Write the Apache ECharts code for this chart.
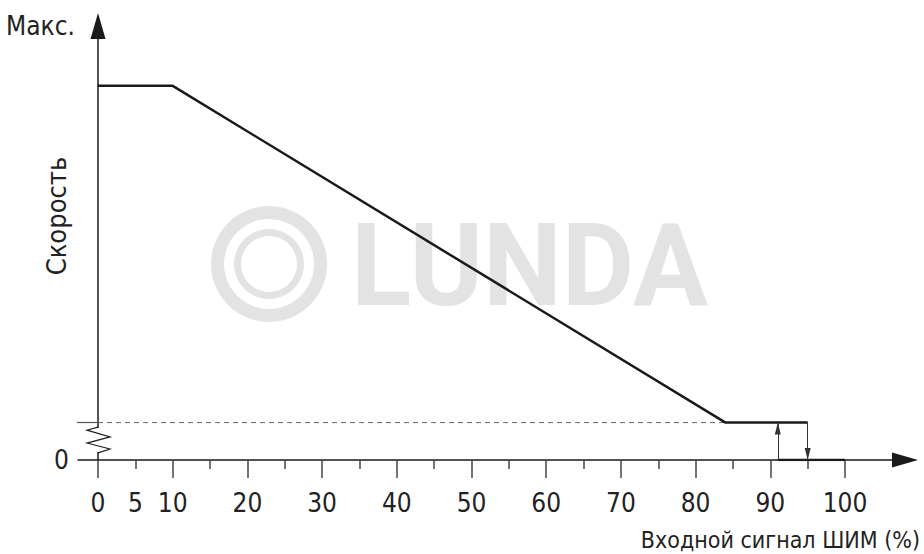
<!DOCTYPE html>
<html>
<head>
<meta charset="utf-8">
<script src="https://cdn.jsdelivr.net/npm/echarts@6/dist/echarts.min.js"></script>
<style>
html,body{margin:0;padding:0;background:#fff;}
#c{width:924px;height:554px;}
</style>
</head>
<body>
<div id="c"></div>
<script>
// ---- data ----
const speedX = [0, 10, 84, 95];
const speedY = [100, 100, 10, 10];
const offX = [91, 100];
const offY = [0, 0];
const onSwitchX = 91;   // upward arrow (switch on)
const offSwitchX = 95;  // downward arrow (switch off)
const minSpeed = 10;
const dashEndX = 84;
const xLabelValues = [0, 5, 10, 20, 30, 40, 50, 60, 70, 80, 90, 100];
const xMajorTicks = [0, 10, 20, 30, 40, 50, 60, 70, 80, 90, 100];
const xMinorTicks = [5, 15, 25, 35, 45, 55, 65, 75, 85, 95];
const yLabelValues = [0, 116];
const yLabelTexts = ['0', 'Макс.'];
const yTickValues = [10];
const xName = 'Входной сигнал ШИМ (%)';
const yName = 'Скорость';
const breakRange = [1.9, 8.8];

const X_MIN = -2.68, X_MAX = 108.03, Y_MIN = 0, Y_MAX = 116;
const FONT = '"DejaVu Sans Condensed", "Liberation Sans Narrow", "Liberation Sans", sans-serif';
const INK = '#1a1a1a';

const chart = echarts.init(document.getElementById('c'), null, {renderer: 'svg'});

const option = {
  animation: false,
  backgroundColor: '#fff',
  title: {
    text: xName,
    right: 4,
    top: 528,
    padding: 0,
    textStyle: {fontFamily: FONT, fontSize: 23, fontWeight: 'normal', color: '#222'}
  },
  grid: {left: 78, right: 19, top: 26, bottom: 94, containLabel: false, outerBoundsMode: 'none'},
  xAxis: [
    {
      type: 'value', min: X_MIN, max: X_MAX, position: 'bottom',
      splitLine: {show: false},
      axisLine: {show: true, symbol: ['none', 'triangle'], symbolSize: [15, 26],
        lineStyle: {color: INK, width: 1.5}},
      axisTick: {show: true, customValues: xMajorTicks, length: 18, inside: false,
        lineStyle: {color: '#444', width: 1.5}},
      axisLabel: {show: true, customValues: xLabelValues, margin: 30,
        fontFamily: FONT, fontSize: 26, color: '#222',
        formatter: v => String(v)}
    },
    {
      type: 'value', min: X_MIN, max: X_MAX, position: 'bottom',
      splitLine: {show: false},
      axisLine: {show: false},
      axisTick: {show: true, customValues: xMinorTicks, length: 9, inside: false,
        lineStyle: {color: '#444', width: 1.5}},
      axisLabel: {show: false}
    }
  ],
  yAxis: {
    type: 'value', min: Y_MIN, max: Y_MAX,
    name: yName, nameLocation: 'middle', nameRotate: 90, nameGap: 8, nameMoveOverlap: false,
    nameTextStyle: {fontFamily: FONT, fontSize: 27, color: '#222', padding: [0, 0, 0, 54]},
    splitLine: {show: false},
    axisLine: {show: true, onZero: true, symbol: ['none', 'triangle'], symbolSize: [15, 26],
      lineStyle: {color: INK, width: 1.5}},
    axisTick: {show: true, customValues: yTickValues, length: 21, inside: false,
      lineStyle: {color: '#555', width: 1.2}},
    axisLabel: {show: true, customValues: yLabelValues, margin: 3,
      fontFamily: FONT, fontSize: 26, color: '#222',
      formatter: v => v === 0 ? '{z|0}' : yLabelTexts[1],
      rich: {z: {fontFamily: FONT, fontSize: 26, color: '#222', padding: [0, 6, 0, 0]}}}
  },
  series: [
    {
      type: 'line', name: 'dash', xAxisIndex: 0,
      data: [[0, minSpeed], [dashEndX, minSpeed]],
      symbol: 'none', silent: true, z: 1,
      lineStyle: {color: '#666', width: 1, type: [5, 4]}
    },
    {
      type: 'line', name: 'speed', xAxisIndex: 0,
      data: speedX.map((x, i) => [x, speedY[i]]),
      symbol: 'none', silent: true, z: 3,
      lineStyle: {color: INK, width: 2.5}
    },
    {
      type: 'line', name: 'off', xAxisIndex: 0,
      data: offX.map((x, i) => [x, offY[i]]),
      symbol: 'none', silent: true, z: 3,
      lineStyle: {color: INK, width: 2.5},
      markLine: {
        silent: true, animation: false,
        symbol: ['none', 'triangle'], symbolSize: [6, 12],
        symbolOffset: [0, [0, '50%']],
        label: {show: false},
        lineStyle: {color: '#333', width: 1, type: 'solid'},
        emphasis: {disabled: true},
        data: [
          [{coord: [onSwitchX, 0]}, {coord: [onSwitchX, minSpeed]}],
          [{coord: [offSwitchX, minSpeed]}, {coord: [offSwitchX, 0]}]
        ]
      }
    }
  ]
};
chart.setOption(option);

// decorations: axis break zigzag + watermark
const pTop = chart.convertToPixel({gridIndex: 0}, [0, breakRange[1]]);
const pBot = chart.convertToPixel({gridIndex: 0}, [0, breakRange[0]]);
const ax = pTop[0], yT = pTop[1], yB = pBot[1], h = yB - yT;
const zig = [
  [ax, yT], [ax - 11, yT + h * 0.12], [ax + 12, yT + h * 0.38],
  [ax - 11, yT + h * 0.62], [ax + 12, yT + h * 0.85], [ax, yB]
];
chart.setOption({
  graphic: [
    {type: 'ring', z: -10, silent: true, shape: {cx: 269, cy: 264, r: 58, r0: 45}, style: {fill: '#e3e3e3'}},
    {type: 'ring', z: -10, silent: true, shape: {cx: 269, cy: 264, r: 35, r0: 28}, style: {fill: '#e3e3e3'}},
    {type: 'text', z: -10, silent: true, x: 351, y: 266, scaleX: 0.97,
      style: {text: 'LUNDA', fill: '#e3e3e3', font: 'bold 115px Roboto, "Liberation Sans", sans-serif',
        textAlign: 'left', textVerticalAlign: 'middle'}},
    {type: 'rect', z: 50, silent: true, shape: {x: ax - 3, y: yT + 1, width: 6, height: h - 2}, style: {fill: '#fff'}},
    {type: 'polyline', z: 51, silent: true, shape: {points: zig}, style: {stroke: '#222', lineWidth: 1.2, fill: null}}
  ]
});
</script>
</body>
</html>
